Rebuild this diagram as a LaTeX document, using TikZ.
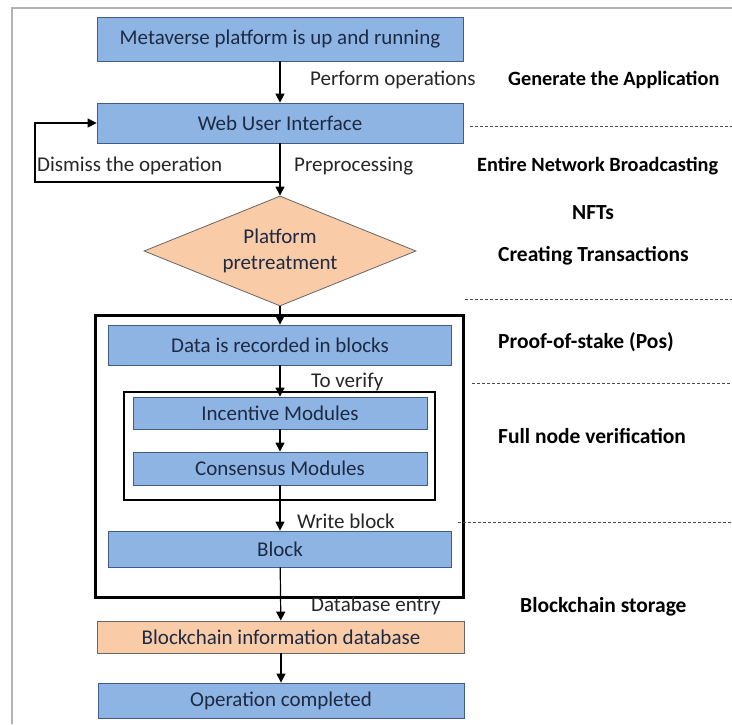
\documentclass[tikz,border=0pt]{standalone}
\usepackage{xcolor}
\usepackage{fontspec}
\setmainfont{Carlito}
\usepackage{tikz}
\usetikzlibrary{shapes.geometric, arrows.meta, positioning}

\definecolor{boxblue}{HTML}{8EB4E3}
\definecolor{boxline}{HTML}{3F5E86}
\definecolor{peach}{HTML}{F9CBA7}
\definecolor{navy}{HTML}{1C2A44}

\begin{document}
\begin{tikzpicture}
  [
    x=1pt, y=-1pt,
    font=\fontsize{21}{26}\selectfont,
    Blue/.style={rectangle, draw=boxline, fill=boxblue, thick, text=navy, inner sep=0pt},
    Peach/.style={rectangle, draw=gray!80!black, fill=peach, thick, text=navy, inner sep=0pt},
    Decision/.style={diamond, draw=gray!80!black, fill=peach, thick, text=navy, inner xsep=-60pt, inner ysep=-30pt, align=center, minimum width=272pt, minimum height=110pt},
    Frame/.style={rectangle, draw=black, inner sep=0pt},
    Note/.style={anchor=west, text=black!85, inner sep=0pt},
    Stage/.style={anchor=west, font=\fontsize{21.5}{26}\selectfont\bfseries, inner sep=0pt},
    Edge/.style={anchor=west, font=\fontsize{20.3}{26}\selectfont\bfseries, inner sep=0pt},
    Flow/.style={-{Triangle[width=9pt,length=9pt]}, draw, line width=1.2pt},
    Split/.style={dash pattern=on 3pt off 2pt, draw=black!70, thin}
  ]
  \useasboundingbox (0,0) rectangle (732,724);
  \draw[gray!60, line width=1.5pt] (12,724) -- (12,8) -- (732,8);

  % Nodes
  \node[Blue, minimum width=366pt, minimum height=44pt] (start) at (280,39) {Metaverse platform is up and running};
  \node[Blue, minimum width=366pt, minimum height=40pt] (web) at (280,123) {Web User Interface};
  \node[Decision] (pre) at (280,251) {Platform\\pretreatment};
  \node[Frame, line width=3pt, minimum width=368pt, minimum height=282pt] (chain) at (279,456) {};
  \node[Blue, minimum width=343pt, minimum height=40pt] (data) at (280,345) {Data is recorded in blocks};
  \node[Frame, line width=2pt, minimum width=311pt, minimum height=108pt] (verify) at (279,446) {};
  \node[Blue, minimum width=294pt, minimum height=32pt] (inc) at (280,413) {Incentive Modules};
  \node[Blue, minimum width=294pt, minimum height=33pt] (con) at (280,468.5) {Consensus Modules};
  \node[Blue, minimum width=343pt, minimum height=36pt] (blk) at (280,549) {Block};
  \node[Peach, minimum width=367pt, minimum height=32pt] (dbase) at (281,637) {Blockchain information database};
  \node[Blue, minimum width=366pt, minimum height=35pt] (done) at (281,700.5) {Operation completed};

  \coordinate (split) at (280,182);
  \coordinate (turn) at (35,182);

  % Labels
  \node[Note] (l1) at (310,80) {Perform operations};
  \node[Note] (l2) at (37,166) {Dismiss the operation};
  \node[Note] (l3) at (294,166) {Preprocessing};
  \node[Note] (l4) at (311,382) {To verify};
  \node[Note] (l5) at (297,521) {Write block};
  \node[Note] (l6) at (311,606) {Database entry};

  \node[Edge] (s1) at (508,80) {Generate the Application};
  \node[Edge] (s2) at (477,166) {Entire Network Broadcasting};
  \node[Stage, anchor=center] (s3) at (593,213) {NFTs};
  \node[Stage] (s4) at (498,256) {Creating Transactions};
  \node[Stage] (s5) at (498,342) {Proof-of-stake (Pos)};
  \node[Stage] (s6) at (498,436) {Full node verification};
  \node[Stage] (s7) at (520,607) {Blockchain storage};

  % Lines
  \path [Flow] (start) -- (web);
  \path [Flow] (web) -- (pre);
  \path [Flow] (split) -- (turn) |- (web.west);
  \path [Flow] (pre) -- (data);
  \path [Flow] (data) -- (inc);
  \path [Flow] (inc) -- (con);
  \path [Flow] (con) -- (blk);
  \path [Flow] (blk) -- (dbase);
  \path [Flow] (dbase) -- (done);

  \path [Split] (470,126) -- (732,126);
  \path [Split] (465,299) -- (732,299);
  \path [Split] (472,383) -- (732,383);
  \path [Split] (458,522) -- (732,522);

\end{tikzpicture}
\end{document}
